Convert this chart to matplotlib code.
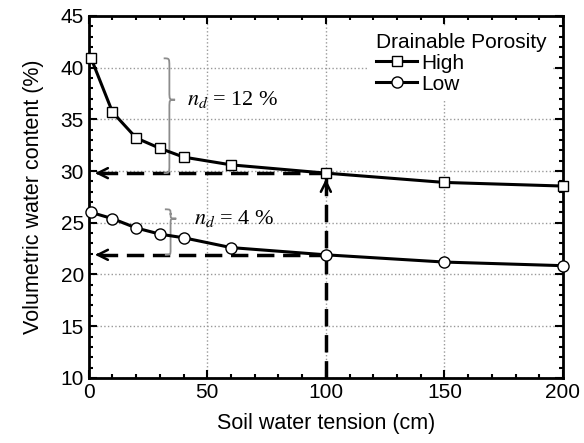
import matplotlib
matplotlib.use('Agg')
import matplotlib.pyplot as plt
from matplotlib.path import Path
from matplotlib.patches import PathPatch
from matplotlib.ticker import MultipleLocator

plt.rcParams['font.family'] = ['Liberation Sans', 'DejaVu Sans']
plt.rcParams['mathtext.fontset'] = 'stix'

# data
tension = [1, 10, 20, 30, 40, 60, 100, 150, 200]
high = [40.9, 35.7, 33.2, 32.2, 31.35, 30.6, 29.8, 28.9, 28.55]
low = [26.0, 25.4, 24.5, 23.9, 23.55, 22.6, 21.9, 21.2, 20.85]
ref_tension = 100
nd_high = 12
nd_low = 4


def brace(ax, x, y_top, y_bot, y_tip, w=2.4, h=0.8):
    # curly brace "}" drawn as bezier path in data coords
    verts = [(x - w, y_top), (x, y_top), (x, y_top), (x, y_top - h),
             (x, y_tip + h),
             (x, y_tip), (x, y_tip), (x + w, y_tip),
             (x, y_tip), (x, y_tip), (x, y_tip - h),
             (x, y_bot + h),
             (x, y_bot), (x, y_bot), (x - w, y_bot)]
    codes = [Path.MOVETO, Path.CURVE4, Path.CURVE4, Path.CURVE4,
             Path.LINETO,
             Path.CURVE4, Path.CURVE4, Path.CURVE4,
             Path.CURVE4, Path.CURVE4, Path.CURVE4,
             Path.LINETO,
             Path.CURVE4, Path.CURVE4, Path.CURVE4]
    ax.add_patch(PathPatch(Path(verts, codes), fc='none', ec='#8c8c8c', lw=1.3, zorder=3))


fig = plt.figure(figsize=(5.84, 4.43), dpi=100)
ax = fig.add_axes([0.152, 0.147, 0.812, 0.817])

ax.grid(True, color='#999999', linestyle=':', linewidth=1)
ax.set_axisbelow(True)

# dashed guide arrows
i = tension.index(ref_tension)
dash = dict(color='black', lw=2.5, linestyle=(0, (5, 2.5)), zorder=2)
ax.plot([ref_tension, 2], [high[i], high[i]], **dash)
ax.plot([ref_tension, 2], [low[i], low[i]], **dash)
ax.plot([ref_tension, ref_tension], [10, high[i] - 0.3], **dash)
head = dict(arrowstyle='->', color='black', lw=1.8, mutation_scale=18)
ax.annotate('', xy=(1.5, high[i]), xytext=(6, high[i]), arrowprops=head)
ax.annotate('', xy=(1.5, low[i]), xytext=(6, low[i]), arrowprops=head)
ax.annotate('', xy=(ref_tension, high[i] - 0.3), xytext=(ref_tension, high[i] - 1.6),
            arrowprops=head)

ax.plot(tension, high, '-s', color='black', lw=2.2, markersize=7,
        markerfacecolor='white', markeredgewidth=1, label='High', zorder=4, clip_on=False)
ax.plot(tension, low, '-o', color='black', lw=2.2, markersize=8,
        markerfacecolor='white', markeredgewidth=1, label='Low', zorder=4, clip_on=False)

brace(ax, 34, high[0], high[i], 36.9)
brace(ax, 34.5, 26.3, low[i], 25.4, h=0.5)
ax.text(41.5, 36.9, r'$n_d$ = %d %%' % nd_high, fontsize=16, va='center',
        family='Liberation Serif')
ax.text(44.5, 25.4, r'$n_d$ = %d %%' % nd_low, fontsize=16, va='center',
        family='Liberation Serif')

ax.set_xlim(0, 200)
ax.set_ylim(10, 45)
ax.xaxis.set_major_locator(MultipleLocator(50))
ax.xaxis.set_minor_locator(MultipleLocator(10))
ax.yaxis.set_major_locator(MultipleLocator(5))
ax.yaxis.set_minor_locator(MultipleLocator(1))
ax.tick_params(which='both', direction='in', top=True, right=True, labelsize=15, width=1.5)
ax.tick_params(which='major', length=6)
ax.tick_params(which='minor', length=3)
for s in ax.spines.values():
    s.set_linewidth(2)

ax.set_xlabel('Soil water tension (cm)', fontsize=15.5, labelpad=8)
ax.set_ylabel('Volumetric water content (%)', fontsize=15.5, labelpad=12)

leg = ax.legend(title='Drainable Porosity', loc='upper right', fontsize=15,
                title_fontsize=15, frameon=True, framealpha=1, edgecolor='none',
                handlelength=2.0, handletextpad=0.2, labelspacing=0.1,
                borderpad=0.3, alignment='left', fancybox=False)

fig.savefig('out.png', dpi=100)
